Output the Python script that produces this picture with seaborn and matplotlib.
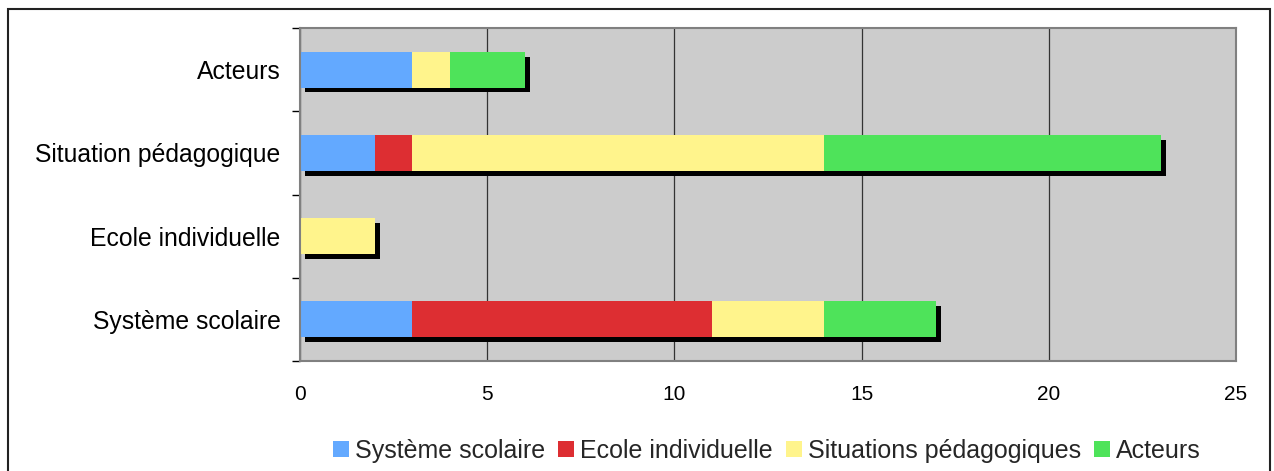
import numpy as np
import pandas as pd
import matplotlib
matplotlib.use("Agg")
import matplotlib.pyplot as plt
import matplotlib.patheffects as pe
from matplotlib.patches import Patch, Rectangle
import seaborn as sns

categories = ["Acteurs", "Situation pédagogique", "Ecole individuelle", "Système scolaire"]
systeme_scolaire = [3, 2, 0, 3]
ecole_individuelle = [0, 1, 0, 8]
situations_pedagogiques = [1, 11, 2, 3]
acteurs = [2, 9, 0, 3]

series_names = ["Système scolaire", "Ecole individuelle", "Situations pédagogiques", "Acteurs"]
colors = ["#63A9FF", "#DD2E32", "#FFF48C", "#4EE35A"]

df = pd.DataFrame({
    "cat": categories,
    "Système scolaire": systeme_scolaire,
    "Ecole individuelle": ecole_individuelle,
    "Situations pédagogiques": situations_pedagogiques,
    "Acteurs": acteurs,
})
cum = df[series_names].cumsum(axis=1)

sns.set_theme(style="white")
plt.rcParams["font.family"] = ["Liberation Sans", "DejaVu Sans"]

fig = plt.figure(figsize=(12.74, 4.71), dpi=100)
ax = fig.add_axes([300 / 1274, 1 - 361 / 471, 936 / 1274, 333 / 471])
ax.set_facecolor("#CCCCCC")

# stacked bars: draw cumulative totals from the largest down
for i, name in enumerate(reversed(series_names)):
    n_before = len(ax.patches)
    sns.barplot(x=cum[name], y=df["cat"], color=colors[series_names.index(name)],
                orient="h", width=0.43, saturation=1, linewidth=0, ax=ax)
    if i == 0:
        for p in ax.patches[n_before:]:
            p.set_path_effects([pe.SimplePatchShadow(offset=(3.5, -3.5), shadow_rgbFace="black", alpha=1.0),
                                pe.Normal()])

ax.set_xlim(0, 25)
ax.set_xticks(np.arange(0, 26, 5))
ax.set_ylim(3.5, -0.5)
ax.set_yticks(np.arange(-0.5, 4, 1), minor=True)
ax.set_xlabel("")
ax.set_ylabel("")
ax.xaxis.grid(True, color="#333333", linewidth=0.9)
ax.set_axisbelow(True)
for s in ax.spines.values():
    s.set_color("#808080")
    s.set_linewidth(1.5)
ax.tick_params(axis="x", which="major", length=5, width=1, color="#333333", labelsize=15, pad=12)
ax.tick_params(axis="y", which="major", length=0, labelsize=17.8, pad=14)
ax.tick_params(axis="y", which="minor", left=True, length=6, width=1, color="#333333")
ax.tick_params(colors="black", which="both", labelcolor="black")

handles = [Patch(facecolor=c, edgecolor="none") for c in colors]
fig.legend(handles, series_names, loc="center", bbox_to_anchor=(767 / 1274, 1 - 451 / 471),
           ncol=4, frameon=False, fontsize=18, handlelength=0.64, handleheight=0.64,
           handletextpad=0.24, columnspacing=0.52, borderpad=0)

fig.patches.append(Rectangle((8 / 1274, -0.01), 1262 / 1274, 1.01 - 9 / 471,
                             transform=fig.transFigure, fill=False, edgecolor="#222222",
                             linewidth=1.5, zorder=0))

fig.savefig("out.png", dpi=100)
